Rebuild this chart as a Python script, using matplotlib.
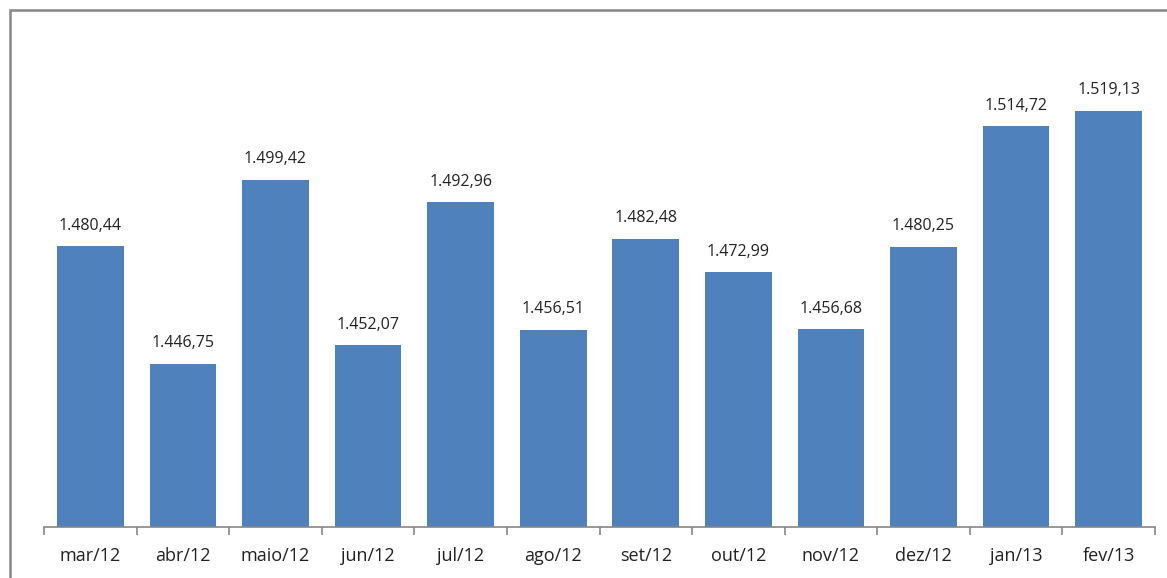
import numpy as np
import matplotlib.pyplot as plt
from matplotlib.patches import Rectangle
from matplotlib.ticker import FixedLocator

meses = ['mar/12', 'abr/12', 'maio/12', 'jun/12', 'jul/12', 'ago/12',
         'set/12', 'out/12', 'nov/12', 'dez/12', 'jan/13', 'fev/13']
valores = [1480.44, 1446.75, 1499.42, 1452.07, 1492.96, 1456.51,
           1482.48, 1472.99, 1456.68, 1480.25, 1514.72, 1519.13]

plt.rcParams['font.family'] = ['Open Sans', 'DejaVu Sans']

fig = plt.figure(figsize=(11.67, 5.78), dpi=100)
# moldura cinza (só lado esquerdo e topo aparecem no recorte)
fig.patches.append(Rectangle((10 / 1167, -0.1), 1.2, 1 - 10 / 578 + 0.1,
                             transform=fig.transFigure, fill=False,
                             edgecolor='#868686', linewidth=1.8))

ax = fig.add_axes([44 / 1167, 51 / 578, (1155 - 44) / 1167, 489 / 578])
x = np.arange(len(meses))
barras = ax.bar(x, valores, width=0.72, color='#4F81BD')
ax.set_ylim(1400, 1540)
ax.set_xlim(-0.5, len(meses) - 0.5)

for rect, v in zip(barras, valores):
    texto = f'{v:,.2f}'.replace(',', 'X').replace('.', ',').replace('X', '.')
    ax.annotate(texto, (rect.get_x() + rect.get_width() / 2, v),
                xytext=(0, 9), textcoords='offset points',
                ha='center', va='bottom', fontsize=11.5, color='#222222')

for lado in ['top', 'right', 'left']:
    ax.spines[lado].set_visible(False)
ax.spines['bottom'].set_color('#868686')
ax.spines['bottom'].set_linewidth(1.2)

ax.set_yticks([])
ax.set_xticks(x)
ax.set_xticklabels(meses, fontsize=13, color='#222222')
ax.tick_params(axis='x', which='major', length=0, pad=14.5)
ax.xaxis.set_minor_locator(FixedLocator(np.arange(-0.5, len(meses), 1)))
ax.tick_params(axis='x', which='minor', length=6, color='#868686', width=1.2)

fig.savefig('out.png', dpi=100)
